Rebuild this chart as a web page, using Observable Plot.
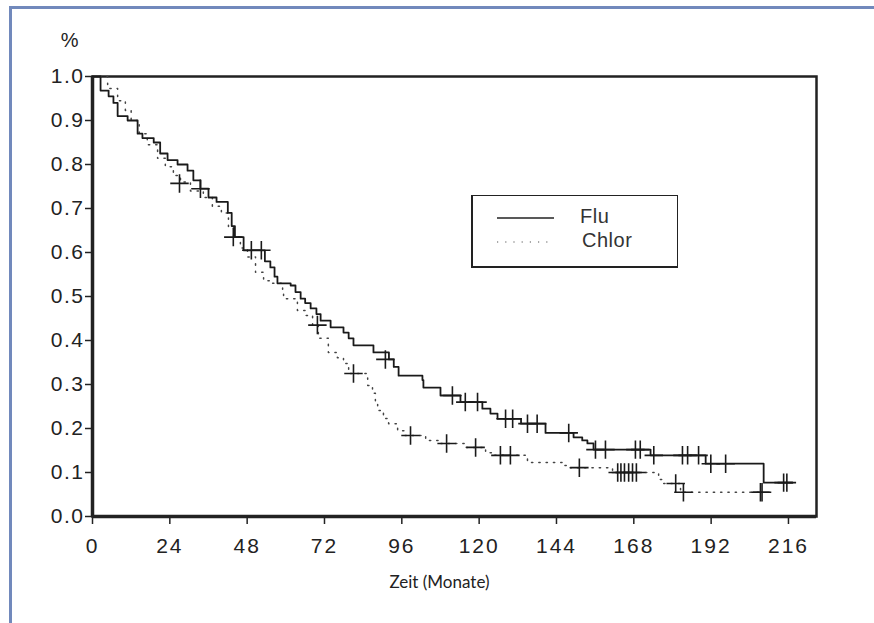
<!DOCTYPE html>
<html>
<head>
<meta charset="utf-8">
<script src="https://cdn.jsdelivr.net/npm/d3@7"></script>
<script src="https://cdn.jsdelivr.net/npm/@observablehq/plot@0.6"></script>
<style>
  html, body { margin: 0; padding: 0; background: #fff; }
  #wrap { position: relative; width: 874px; height: 623px; overflow: hidden; }
  #blueTop { position: absolute; left: 9px; top: 6px; width: 870px; height: 3px; background: #7189bc; }
  #blueLeft { position: absolute; left: 9px; top: 6px; width: 3px; height: 620px; background: #7189bc; }
  #chart { position: absolute; left: 0; top: 0; }
  #chart g[aria-label="x-axis tick label"] { letter-spacing: 2px; }
  #chart g[aria-label="y-axis tick label"] { letter-spacing: 1.5px; }
  #legend { position: absolute; left: 471px; top: 195px; width: 204px; height: 70px;
    border: 1px solid #222; border-left-width: 2px; border-bottom-width: 2px; background: #fff; }
  .lg { position: absolute; font-family: "Liberation Sans", Arial, sans-serif;
    font-size: 20px; color: #333; letter-spacing: 0.5px; }
</style>
</head>
<body>
<div id="wrap">
  <div id="blueTop"></div>
  <div id="blueLeft"></div>
  <div id="chart"></div>
  <div id="legend">
    <svg width="204" height="70" style="position:absolute;left:0;top:0">
      <line x1="24" x2="81" y1="22" y2="22" stroke="#222" stroke-width="1.5"/>
      <line x1="24" x2="81" y1="46" y2="46" stroke="#555" stroke-width="1.2" stroke-dasharray="1.2,7"/>
    </svg>
    <div class="lg" style="left:107px;top:9px">Flu</div>
    <div class="lg" style="left:109px;top:33px">Chlor</div>
  </div>
</div>
<script>
// ---- data ----
const xTicks = [0, 24, 48, 72, 96, 120, 144, 168, 192, 216];
const yTicks = [0, 0.1, 0.2, 0.3, 0.4, 0.5, 0.6, 0.7, 0.8, 0.9, 1.0];

// Flu Kaplan-Meier steps: time (months) and survival after each step
const fluTime = [0, 2.5, 5, 6.5, 7.8, 10.9, 14, 15.5, 19, 21, 23.3, 26.4, 29.5, 31.3, 33.5, 36, 38.5, 42, 43.2, 44.2,
  46.9, 53.5, 55.2, 56.5, 57.4, 61.5, 63, 64.6, 66, 67.7, 69.5, 70.8, 73.9, 77.9, 79.5, 81, 87.2, 92, 93.5, 95,
  102.4, 102.7, 108, 114.2, 121, 123.5, 125.7, 133, 140.6, 149.3, 152, 153.6, 155.5, 173.2, 190.3, 208.3, 217.3];
const fluSurv = [1, 0.968, 0.955, 0.94, 0.91, 0.9, 0.87, 0.86, 0.85, 0.825, 0.81, 0.8, 0.786, 0.764, 0.745, 0.725, 0.715, 0.69, 0.66, 0.635,
  0.605, 0.58, 0.566, 0.545, 0.53, 0.525, 0.51, 0.495, 0.485, 0.473, 0.46, 0.445, 0.43, 0.418, 0.405, 0.389, 0.373, 0.357, 0.34, 0.32,
  0.31, 0.293, 0.275, 0.26, 0.245, 0.234, 0.222, 0.211, 0.19, 0.18, 0.173, 0.166, 0.152, 0.139, 0.12, 0.077, 0.077];

// Flu censored observations
const fluCensTime = [33.5, 43.7, 49.3, 52.4, 90.9, 111.7, 115.7, 119.5, 128.2, 130.4, 135, 138, 147.8,
  156.1, 159.2, 168.5, 170, 174.2, 183.1, 184.7, 188.1, 191.9, 196.5, 214.5, 215.5];
const fluCensSurv = [0.745, 0.635, 0.605, 0.605, 0.357, 0.275, 0.26, 0.26, 0.222, 0.222, 0.211, 0.211, 0.19,
  0.152, 0.152, 0.152, 0.152, 0.139, 0.139, 0.139, 0.139, 0.12, 0.12, 0.077, 0.077];

// Chlor Kaplan-Meier steps
const chlorTime = [0, 4.7, 7.8, 10.2, 12, 14.5, 17, 20.2, 22.6, 25.1, 27.3, 30.4, 34.4, 37.2, 40, 42.2, 43.8, 45.9, 48.1,
  50.6, 53.1, 55.2, 59, 59.3, 63.6, 66.1, 68.3, 70.1, 73.2, 76, 77.9, 79.5, 85.4, 86.9, 87.8, 88.5, 90.3, 91.9, 94.7,
  97, 103.4, 108, 116, 122, 124.5, 135, 145.9, 148, 161.4, 175.7, 177.2, 182.5, 207.8];
const chlorSurv = [1, 0.973, 0.945, 0.923, 0.9, 0.87, 0.845, 0.814, 0.795, 0.775, 0.76, 0.74, 0.725, 0.705, 0.69, 0.657, 0.635, 0.61, 0.59,
  0.555, 0.536, 0.53, 0.51, 0.495, 0.468, 0.457, 0.435, 0.405, 0.373, 0.361, 0.348, 0.325, 0.298, 0.28, 0.257, 0.241, 0.223, 0.211, 0.195,
  0.184, 0.173, 0.166, 0.157, 0.145, 0.139, 0.123, 0.116, 0.111, 0.1, 0.084, 0.075, 0.055, 0.055];

// Chlor censored observations
const chlorCensTime = [27, 69.8, 81, 98.7, 109.9, 118.9, 126.6, 129.7, 151.1, 163, 164, 165.1, 166.4, 167.6, 168.8,
  181, 183.4, 207.3, 207.8];
const chlorCensSurv = [0.757, 0.435, 0.325, 0.184, 0.166, 0.157, 0.139, 0.139, 0.111, 0.1, 0.1, 0.1, 0.1, 0.1, 0.1,
  0.075, 0.055, 0.055, 0.055];

// ---- build tables ----
const zip = (t, s) => t.map((d, i) => ({t: d, s: s[i]}));
const flu = zip(fluTime, fluSurv);
const chlor = zip(chlorTime, chlorSurv);
const fluC = zip(fluCensTime, fluCensSurv);
const chlorC = zip(chlorCensTime, chlorCensSurv);

const font = '"Liberation Sans", Arial, sans-serif';

const chart = Plot.plot({
  width: 874,
  height: 623,
  marginLeft: 92,
  marginRight: 58,
  marginTop: 76,
  marginBottom: 107,
  style: {fontFamily: font, fontSize: "21px", color: "#222", background: "transparent"},
  x: {domain: [0, 224.7]},
  y: {domain: [0, 1]},
  marks: [
    Plot.frame({stroke: "#222", strokeWidth: 2.5}),
    Plot.ruleX([0], {stroke: "#222", strokeWidth: 3.5}),
    Plot.ruleY([0], {stroke: "#222", strokeWidth: 3.5}),
    Plot.axisX({ticks: xTicks, tickSize: 8, tickPadding: 14, label: null, stroke: "#222", strokeWidth: 1.5, fontSize: 21}),
    Plot.axisY({ticks: yTicks, tickSize: 7, tickPadding: 1, tickFormat: d3.format(".1f"), label: null,
      stroke: "#222", strokeWidth: 1.5, fontSize: 21}),
    Plot.line(chlor, {x: "t", y: "s", curve: "step-after", stroke: "#444", strokeWidth: 1.5, strokeDasharray: "1.3,6"}),
    Plot.line(flu, {x: "t", y: "s", curve: "step-after", stroke: "#1a1a1a", strokeWidth: 1.8}),
    Plot.dot(fluC, {x: "t", y: "s", symbol: "plus", r: 6, stroke: "#1a1a1a", strokeWidth: 1.6}),
    Plot.dot(chlorC, {x: "t", y: "s", symbol: "plus", r: 6, stroke: "#1a1a1a", strokeWidth: 1.6}),
    Plot.text(["%"], {text: d => d, frameAnchor: "top-left", dx: -14, dy: -44, fontSize: 20,
      textAnchor: "end", fontFamily: "Liberation Sans, Arial, sans-serif", fill: "#222"}),
    Plot.text(["Zeit (Monate)"], {text: d => d, frameAnchor: "bottom", dx: -15, dy: 71, fontSize: 17,
      fontFamily: "Lato, 'Open Sans', sans-serif", fill: "#222"})
  ]
});
document.getElementById("chart").appendChild(chart);
</script>
</body>
</html>
